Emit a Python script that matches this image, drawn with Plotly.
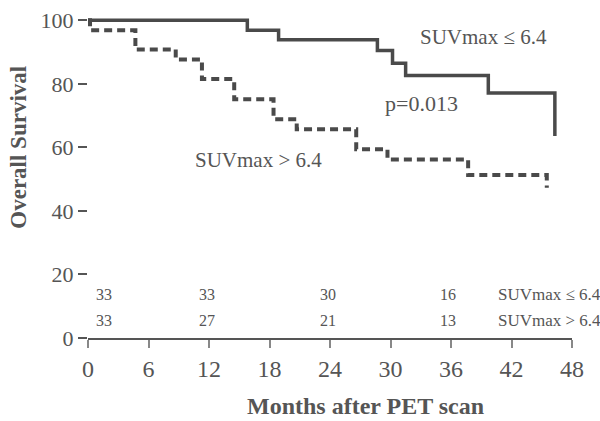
import plotly.graph_objects as go

# Kaplan-Meier steps, months after PET scan vs overall survival (%)
low_months = [0, 15.8, 18.9, 28.7, 30.2, 31.5, 39.7, 46.3]
low_surv = [100, 96.9, 93.9, 90.5, 86.5, 82.6, 77.1, 63.6]

high_months = [0, 0.2, 4.7, 8.7, 11.3, 14.5, 18.4, 20.7, 26.6, 29.7, 37.7, 45.5]
high_surv = [100, 96.9, 90.8, 87.7, 81.5, 75.2, 68.9, 65.7, 59.4, 56.2, 51.3, 47.3]

# numbers at risk
risk_months = [1.6, 11.8, 23.8, 35.7]
risk_low = [33, 33, 30, 16]
risk_high = [33, 27, 21, 13]
group_labels = ["SUVmax ≤ 6.4", "SUVmax > 6.4"]

x_ticks = [0, 6, 12, 18, 24, 30, 36, 42, 48]
y_ticks = [0, 20, 40, 60, 80, 100]

INK = "#4a4a4a"
TXT = "#555555"
FONT = "Liberation Serif"

fig = go.Figure()
fig.add_trace(go.Scatter(
    x=low_months, y=low_surv, mode="lines", line_shape="hv",
    line=dict(color=INK, width=3.5), showlegend=False, hoverinfo="skip"))
fig.add_trace(go.Scatter(
    x=high_months, y=high_surv, mode="lines", line_shape="hv",
    line=dict(color=INK, width=4, dash="8px,5px"), showlegend=False,
    hoverinfo="skip"))

ann = []
# curve labels and p-value
ann.append(dict(x=39.2, y=94.8, text=group_labels[0], showarrow=False,
                font=dict(family=FONT, size=21, color=TXT)))
ann.append(dict(x=16.9, y=55.9, text=group_labels[1], showarrow=False,
                font=dict(family=FONT, size=21, color=TXT)))
ann.append(dict(x=33.1, y=73.7, text="p=0.013", showarrow=False,
                font=dict(family=FONT, size=22, color=TXT)))

# at-risk table
for row_y, counts, label in [(13.8, risk_low, group_labels[0]),
                             (5.5, risk_high, group_labels[1])]:
    for m, c in zip(risk_months, counts):
        ann.append(dict(x=m, y=row_y, text=str(c), showarrow=False,
                        font=dict(family=FONT, size=16, color=TXT)))
    ann.append(dict(x=40.5, y=row_y, text=label, showarrow=False,
                    xanchor="left",
                    font=dict(family=FONT, size=17, color=TXT)))

# axis titles
ann.append(dict(xref="paper", yref="paper", x=0.574, y=-0.209,
                xanchor="center", yanchor="middle",
                text="<b>Months after PET scan</b>", showarrow=False,
                font=dict(family=FONT, size=24, color=TXT)))
ann.append(dict(xref="paper", x=-0.144, y=60, xanchor="center",
                yanchor="middle", text="<b>Overall Survival</b>",
                showarrow=False, textangle=-90,
                font=dict(family=FONT, size=23, color=TXT)))

fig.update_layout(
    width=600, height=421, autosize=False,
    margin=dict(l=88, r=28, t=8, b=83),
    paper_bgcolor="white", plot_bgcolor="white",
    annotations=ann,
    font=dict(family=FONT, color=TXT),
)
fig.update_xaxes(
    range=[0, 48], tickvals=x_ticks, showgrid=False, zeroline=False,
    showline=True, linecolor="#555555", linewidth=2,
    ticks="outside", ticklen=8, tickwidth=2, tickcolor="#888888",
    tickfont=dict(family=FONT, size=24, color=TXT))
fig.update_yaxes(
    range=[0, 102], tickvals=y_ticks, showgrid=False, zeroline=False,
    showline=False, ticks="outside", ticklen=9, tickwidth=2,
    tickcolor="#555555",
    tickfont=dict(family=FONT, size=22, color=TXT))

fig.write_html("out.html")
